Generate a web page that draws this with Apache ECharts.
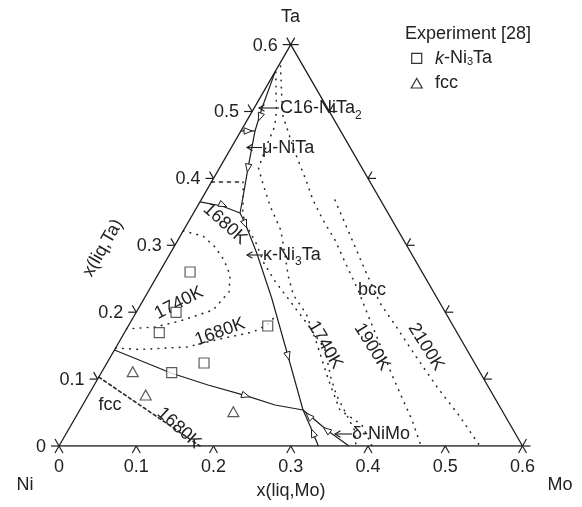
<!DOCTYPE html>
<html><head><meta charset="utf-8">
<script src="https://cdn.jsdelivr.net/npm/echarts/dist/echarts.min.js"></script>
<style>html,body{margin:0;padding:0;background:#fff}#c{width:582px;height:507px}</style>
</head><body><div id="c"></div>
<script>
// ---- data (compositions as [x(liq,Mo), x(liq,Ta)]) ----
const tickValues = [0, 0.1, 0.2, 0.3, 0.4, 0.5, 0.6];
const tickLabels = ['0', '0.1', '0.2', '0.3', '0.4', '0.5', '0.6'];

// univariant (phase boundary) lines
const lineFccKappa = [[0, 0.1435], [0.0915, 0.1087], [0.1473, 0.0912], [0.2041, 0.0752], [0.249, 0.0613], [0.289, 0.0538]];
const lineFccBcc = [[0.289, 0.0538], [0.312, 0.0389], [0.3346, 0.0239], [0.3754, 0]];
const lineFccDelta = [[0.289, 0.0538], [0.3128, 0.0269], [0.3357, 0]];
const lineKappaBcc = [[0.0602, 0.3483], [0.0741, 0.3333], [0.1117, 0.2885], [0.1647, 0.2212], [0.2292, 0.1345], [0.289, 0.0538]];
const lineMuKappa = [[0, 0.365], [0.0316, 0.3587], [0.0602, 0.3483]];
const lineMuBcc = [[0.0183, 0.4709], [0.0369, 0.4155], [0.0521, 0.3722], [0.0602, 0.3483]];
const lineC16Mu = [[0, 0.4709], [0.0183, 0.4709]];
const lineC16Bcc = [[0, 0.56], [0.0102, 0.5052], [0.0183, 0.4709]];

// flow arrows: [position, towards]
const flowArrows = [
  [[0.2041, 0.0752], [0.249, 0.0613]],
  [[0.0322, 0.3602], [0.0602, 0.3483]],
  [[0.0093, 0.4709], [0.0183, 0.4709]],
  [[0.0143, 0.4918], [0.0183, 0.4709]],
  [[0.0369, 0.4155], [0.0521, 0.3722]],
  [[0.0749, 0.3318], [0.1117, 0.2885]],
  [[0.2292, 0.1345], [0.289, 0.0538]],
  [[0.3012, 0.0448], [0.289, 0.0538]],
  [[0.3346, 0.0239], [0.3012, 0.0448]],
  [[0.3191, 0.0194], [0.289, 0.0538]]
];

// isotherms
const iso1680Fcc = [[0, 0.103], [0.1825, 0]];
const iso1680Mu = [[0, 0.3946], [0.0409, 0.3946]];
const iso1680Kappa = [[0, 0.1465], [0.0328, 0.1442], [0.0917, 0.148], [0.1284, 0.16], [0.1659, 0.1704], [0.1789, 0.1809], [0.184, 0.197]];
const iso1740Kappa = [[0, 0.3214], [0.0294, 0.3139], [0.0532, 0.2975], [0.0746, 0.278], [0.0936, 0.2556], [0.105, 0.2302], [0.0978, 0.2033], [0.0632, 0.1868], [0.0354, 0.1779], [0, 0.1749]];
const iso1680Bcc = [[0.0409, 0.3946], [0.0494, 0.3782], [0.0637, 0.3483], [0.0743, 0.3333], [0.1034, 0.3034], [0.1285, 0.2735], [0.1578, 0.2451], [0.1855, 0.2212], [0.2285, 0.1839], [0.2717, 0.1450], [0.3012, 0.1017], [0.3211, 0.0762], [0.3465, 0.0493], [0.3704, 0.0239], [0.3845, 0]];
const iso1740Bcc = [[0.0012, 0.5590], [0.0172, 0.5277], [0.0304, 0.5022], [0.0402, 0.4783], [0.0449, 0.4454], [0.0505, 0.4155], [0.0694, 0.3901], [0.0952, 0.3572], [0.1257, 0.3228], [0.1498, 0.2855], [0.1697, 0.2541], [0.1906, 0.2257], [0.2215, 0.1973], [0.2589, 0.1510], [0.2984, 0.1001], [0.3367, 0.0538], [0.3765, 0.0314], [0.4052, 0]];
const iso1900Bcc = [[0.0027, 0.5680], [0.0219, 0.5321], [0.0422, 0.4948], [0.0830, 0.4425], [0.1209, 0.3976], [0.1449, 0.3677], [0.1728, 0.3378], [0.2033, 0.3079], [0.2327, 0.2750], [0.2705, 0.2332], [0.3084, 0.1883], [0.3428, 0.1480], [0.3780, 0.1061], [0.4109, 0.0688], [0.4376, 0.0389], [0.4686, 0]];
const iso2100Bcc = [[0.1734, 0.3677], [0.219, 0.3154], [0.2646, 0.2631], [0.3086, 0.2138], [0.3446, 0.1809], [0.3928, 0.136], [0.4452, 0.0882], [0.4926, 0.0478], [0.545, 0]];

// experimental points
const expKappa = [[0.0396, 0.2601], [0.0517, 0.1996], [0.0451, 0.1694], [0.1257, 0.1241], [0.0911, 0.1096], [0.1805, 0.1794]];
const expFcc = [[0.0399, 0.1111], [0.0741, 0.0762], [0.2, 0.0513]];

// ---- drawing ----
const FONT = '"Liberation Sans", Arial, sans-serif';
const INK = '#1e1e1e';
const TXT = '#222';
const S = Math.sqrt(3) / 2;
const xy = p => [p[0] + p[1] / 2, p[1] * S];

const solid = pts => ({type: 'line', data: pts.map(xy), symbol: 'none', silent: true, z: 3,
  lineStyle: {color: INK, width: 1.2}});
const iso = (pts, dash) => ({type: 'line', data: pts.map(xy), symbol: 'none', silent: true, z: 2,
  lineStyle: {color: '#2a2a2a', width: 1.6, type: dash, cap: 'round'}});
const DOT = [0.6, 6.5];

const tickData = [];
tickValues.forEach((v, i) => {
  tickData.push([...xy([v, 0]), 0, i]);
  tickData.push([...xy([0, v]), 1, i]);
  tickData.push([...xy([0.6 - v, v]), 2, i]);
});

const arrowData = flowArrows.map(a => [...xy(a[0]), ...xy(a[1])]);

const series = [
  {type: 'line', data: [[0, 0], [0.6, 0], [0, 0.6], [0, 0]].map(xy), symbol: 'none', silent: true, z: 4,
    lineStyle: {color: INK, width: 1.3}},
  {type: 'custom', data: tickData, encode: {x: 0, y: 1}, z: 4, silent: true,
    renderItem(params, api) {
      const p = api.coord([api.value(0), api.value(1)]);
      const side = api.value(2), idx = api.value(3);
      const L = 8;
      const dirs = side === 0 ? [[-0.5, S], [0.5, S]] : side === 1 ? [[-1, 0], [-0.5, -S]] : [[1, 0], [0.5, -S]];
      const children = dirs.map(d => ({type: 'line',
        shape: {x1: p[0], y1: p[1], x2: p[0] + d[0] * L, y2: p[1] + d[1] * L},
        style: {stroke: INK, lineWidth: 1.2}}));
      if (side === 1) children.push({type: 'text', x: p[0] - 13, y: p[1] + 1,
        style: {text: tickLabels[idx], align: 'right', verticalAlign: 'middle', fontSize: 18, fontFamily: FONT, fill: TXT}});
      return {type: 'group', children};
    }},
  solid(lineFccKappa), solid(lineFccBcc), solid(lineFccDelta), solid(lineKappaBcc),
  solid(lineMuKappa), solid(lineMuBcc), solid(lineC16Mu), solid(lineC16Bcc),
  iso(iso1680Fcc, [3, 3]), iso(iso1680Mu, [3, 5]),
  iso(iso1680Kappa, DOT), iso(iso1740Kappa, DOT), iso(iso1680Bcc, DOT),
  iso(iso1740Bcc, DOT), iso(iso1900Bcc, DOT), iso(iso2100Bcc, DOT),
  {type: 'custom', data: arrowData, encode: {x: [0, 2], y: [1, 3]}, z: 5, silent: true,
    renderItem(params, api) {
      const p = api.coord([api.value(0), api.value(1)]);
      const q = api.coord([api.value(2), api.value(3)]);
      const a = Math.atan2(q[1] - p[1], q[0] - p[0]);
      const len = 8, hw = 3.2, c = Math.cos(a), s = Math.sin(a);
      const tip = [p[0] + c * len / 2, p[1] + s * len / 2];
      const b = [p[0] - c * len / 2, p[1] - s * len / 2];
      return {type: 'polygon', shape: {points: [tip, [b[0] - s * hw, b[1] + c * hw], [b[0] + s * hw, b[1] - c * hw]]},
        style: {fill: '#fff', stroke: INK, lineWidth: 1}};
    }},
  {type: 'scatter', name: 'kappa', data: expKappa.map(xy), symbol: 'rect', symbolSize: 10, z: 6, silent: true,
    itemStyle: {color: '#fff', borderColor: '#333', borderWidth: 1.2}},
  {type: 'scatter', name: 'fcc', data: expFcc.map(xy), symbol: 'triangle', symbolSize: [11, 10], z: 6, silent: true,
    itemStyle: {color: '#fff', borderColor: '#333', borderWidth: 1.2}}
];

const txt = (text, cx, cy, rotDeg, extra) => Object.assign({type: 'text', x: cx, y: cy,
  rotation: (rotDeg || 0) * Math.PI / 180, z: 10, silent: true,
  style: Object.assign({text, x: 0, y: 0, align: 'center', verticalAlign: 'middle', fontSize: 18, fontFamily: FONT, fill: TXT}, extra || {})});

const pointer = (tipX, tipY, tailX) => ({type: 'group', z: 10, silent: true, children: [
  {type: 'line', shape: {x1: tipX, y1: tipY, x2: tailX, y2: tipY}, style: {stroke: INK, lineWidth: 1.1}},
  {type: 'polyline', shape: {points: [[tipX + 5.5, tipY - 3.3], [tipX, tipY], [tipX + 5.5, tipY + 3.3]]}, style: {stroke: INK, lineWidth: 1.1, fill: null}}
]});

// text made of pieces [text, fontSize, dy, fontStyle]
const mctx = document.createElement('canvas').getContext('2d');
function pieces(list, x0, cy) {
  const out = [];
  let x = x0;
  list.forEach(([t, size, dy, st]) => {
    const style = st || 'normal';
    mctx.font = style + ' ' + size + 'px "Liberation Sans"';
    out.push({type: 'text', x, y: cy + dy, z: 10, silent: true,
      style: {text: t, x: 0, y: 0, align: 'left', verticalAlign: 'middle', fontSize: size, fontStyle: style, fontFamily: FONT, fill: TXT}});
    x += mctx.measureText(t).width;
  });
  return out;
}

const graphic = [
  txt('Ta', 290.5, 17), txt('Ni', 25, 485), txt('Mo', 560, 485),
  txt('x(liq,Mo)', 291, 491), txt('x(liq,Ta)', 103, 248, 60),
  txt('bcc', 372, 290), txt('fcc', 110, 405),
  txt('1680K', 225, 224, -42), txt('1740K', 179, 303, 27), txt('1680K', 220, 332, 20),
  txt('1740K', 325, 345, -60), txt('1900K', 372, 347, -58), txt('2100K', 426, 347, -58),
  txt('1680K', 179, 428, -42),
  pointer(259, 108, 279),
  ...pieces([['C16-NiTa', 18, 0], ['2', 12, 8]], 280, 108),
  pointer(247, 147.5, 262),
  txt('μ-NiTa', 262, 148, 0, {align: 'left'}),
  pointer(247, 255, 263),
  ...pieces([['κ-Ni', 18, 0], ['3', 12, 7], ['Ta', 18, 0]], 263, 255),
  pointer(335, 434, 352),
  txt('δ-NiMo', 352, 434, 0, {align: 'left'}),
  txt('Experiment [28]', 405, 34.5, 0, {align: 'left'}),
  {type: 'rect', shape: {x: 411.7, y: 53.3, width: 10, height: 10}, style: {fill: '#fff', stroke: '#333', lineWidth: 1.2}, z: 10},
  ...pieces([['k', 18, 0, 'italic'], ['-Ni', 18, 0], ['3', 11, 3], ['Ta', 18, 0]], 435, 58.5),
  {type: 'polygon', shape: {points: [[416.7, 78.5], [411.2, 88], [422.2, 88]]}, style: {fill: '#fff', stroke: '#333', lineWidth: 1.2}, z: 10},
  txt('fcc', 435, 83.5, 0, {align: 'left'})
];

const chart = echarts.init(document.getElementById('c'), null, {renderer: 'canvas'});
chart.setOption({
  animation: false,
  backgroundColor: '#fff',
  grid: {left: 59, right: 59.5, top: 44.6, bottom: 61, containLabel: false, outerBoundsMode: 'none'},
  xAxis: {type: 'value', min: 0, max: 0.6, interval: 0.1,
    axisLine: {show: false}, axisTick: {show: false}, splitLine: {show: false},
    axisLabel: {fontSize: 18, color: TXT, fontFamily: FONT, margin: 12,
      formatter: v => tickLabels[Math.round(v * 10)]}},
  yAxis: {type: 'value', min: 0, max: 0.6 * S, show: false, splitLine: {show: false}},
  series,
  graphic
});
</script></body></html>
